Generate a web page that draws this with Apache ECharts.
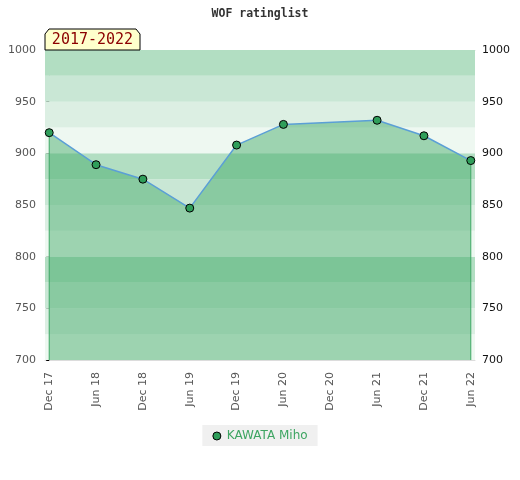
<!DOCTYPE html>
<html>
<head>
<meta charset="utf-8">
<script src="https://cdn.jsdelivr.net/npm/echarts@6/dist/echarts.min.js"></script>
<style>html,body{margin:0;padding:0;background:#fff}#c{width:520px;height:480px}</style>
</head>
<body>
<div id="c"></div>
<script>
const periods = ['Dec 17','Jun 18','Dec 18','Jun 19','Dec 19','Jun 20','Dec 20','Jun 21','Dec 21','Jun 22'];
const ratings = [920, 889, 875, 847, 908, 928, null, 932, 917, 893];
const playerName = 'KAWATA Miho';
const chartTitle = 'WOF ratinglist';
const periodLabel = '2017-2022';
const bandEdges = [700, 725, 750, 775, 800, 825, 850, 875, 900, 925, 950, 975, 1000];
const bandColors = ['#eef8f1', '#dcefe3', '#c9e7d5', '#b2dec2'];

const chart = echarts.init(document.getElementById('c'), null, {renderer: 'canvas'});
const pad = 0.09;
const points = ratings.map((v, i) => [i, v]);
const bands = [];
for (let i = 0; i < bandEdges.length - 1; i++) {
  bands.push([{yAxis: bandEdges[i], itemStyle: {color: bandColors[i % 4], opacity: 1}}, {yAxis: bandEdges[i + 1]}]);
}
const valid = points.filter(p => p[1] != null);
const first = valid[0], last = valid[valid.length - 1];
const edgeSeries = [first, last].map(p => ({
  type: 'line', name: '_edge', data: [[p[0], p[1]], [p[0], 700]], z: 4, silent: true,
  symbol: 'none', lineStyle: {color: '#3fa865', width: 1, opacity: 1},
  emphasis: {disabled: true}
}));

chart.setOption({
  animation: false,
  title: {
    text: chartTitle, left: 'center', top: 3,
    textStyle: {fontFamily: 'DejaVu Sans Mono', fontWeight: 'bold', fontSize: 11.5, color: '#333'}
  },
  grid: {left: 45, right: 45, top: 50, bottom: 120},
  legend: {
    bottom: 34, left: 'center',
    backgroundColor: '#f0f0f0', padding: [5, 10, 4, 10],
    itemWidth: 10, itemHeight: 8,
    textStyle: {color: '#3ea562', fontFamily: 'DejaVu Sans', fontSize: 12},
    data: [{name: playerName, icon: 'circle', itemStyle: {color: '#2f9e5a', borderColor: '#000', borderWidth: 1}}]
  },
  xAxis: [{
    type: 'value', min: -pad, max: periods.length - 1 + pad,
    axisLine: {show: true, lineStyle: {color: '#dcdcdc'}},
    axisTick: {show: false},
    splitLine: {show: false},
    axisLabel: {
      customValues: periods.map((_, i) => i),
      rotate: 90, margin: 12,
      color: '#555', fontFamily: 'DejaVu Sans', fontSize: 11,
      formatter: v => periods[Math.round(v)]
    }
  }, {
    type: 'value', position: 'top', min: -pad, max: periods.length - 1 + pad,
    axisLine: {show: true, lineStyle: {color: '#dcdcdc'}},
    axisTick: {show: false}, axisLabel: {show: false}, splitLine: {show: false}
  }],
  yAxis: [{
    type: 'value', min: 700, max: 1000, interval: 50, position: 'left',
    axisLine: {show: true, lineStyle: {color: '#dcdcdc'}},
    axisTick: {show: false}, splitLine: {show: false},
    axisLabel: {color: '#555', fontFamily: 'DejaVu Sans', fontSize: 11, margin: 9, formatter: v => String(v)}
  }, {
    type: 'value', min: 700, max: 1000, interval: 50, position: 'right',
    axisLine: {show: true, lineStyle: {color: '#dcdcdc'}},
    axisTick: {show: true, inside: true, length: 3, lineStyle: {color: '#000'}},
    minorTick: {show: true, splitNumber: 5, length: 3, lineStyle: {color: '#000'}},
    splitLine: {show: false},
    axisLabel: {color: '#111', fontFamily: 'DejaVu Sans', fontSize: 11, margin: 7, formatter: v => String(v)}
  }],
  graphic: [{
    type: 'polygon', z: 100,
    shape: {points: [[45, 50], [45, 34], [49, 29], [136, 29], [140, 34], [140, 50]]},
    style: {fill: '#ffffcc', stroke: '#000', lineWidth: 1}
  }, {
    type: 'text', z: 101, x: 92.5, y: 40,
    style: {text: periodLabel, fill: '#8b0000', font: '15px "DejaVu Sans Mono"', align: 'center', verticalAlign: 'middle'}
  }],
  series: [{
    type: 'line', name: '_bands', data: [], z: 1, silent: true,
    markArea: {silent: true, data: bands}
  }, {
    type: 'line', name: playerName, data: points, z: 5,
    connectNulls: true,
    symbol: 'circle', symbolSize: 8,
    itemStyle: {color: '#2f9e5a', borderColor: '#000', borderWidth: 1},
    lineStyle: {color: '#5b9fd6', width: 1.5},
    areaStyle: {color: 'rgba(62,168,101,0.46)', opacity: 1, origin: 'start'}
  }].concat(edgeSeries)
});
</script>
</body>
</html>
